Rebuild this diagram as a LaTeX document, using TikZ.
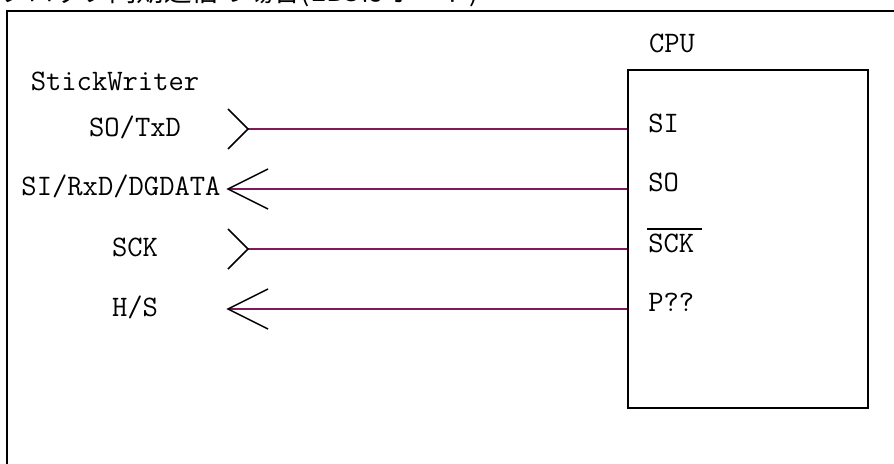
\documentclass[tikz,border=0pt]{standalone}
\usepackage{fontspec}
\newfontfamily\jpfont{Noto Sans CJK JP}
\definecolor{sigcol}{RGB}{130,25,90}
\begin{document}
\begin{tikzpicture}[x=0.75pt,y=-0.75pt,
  lbl/.style={inner sep=0pt,font=\ttfamily\fontsize{22.3}{24}\selectfont},
  frame/.style={line width=1.6pt,black},
  sig/.style={line width=1.2pt,sigcol},
  chev/.style={line width=1.1pt,black}]
\useasboundingbox (0,0) rectangle (894,464);
% title (partly cut off at the top, as in the reference)
\node[inner sep=0pt,anchor=base west,font=\jpfont\fontsize{20.5}{22}\selectfont] (title) at (0,2) {クロック同期通信の場合(EBSはポート)};
% outer frame
\coordinate (fb) at (7,470);
\coordinate (fc) at (7,11);
\coordinate (fr) at (900,11);
\draw[frame] (fb) -- (fc) -- (fr);
% CPU box
\node[draw,frame,inner sep=0pt,minimum width=180pt,minimum height=253.5pt] (cpu) at (748,239) {};
\node[lbl,anchor=base] (cpulbl) at (672,52) {CPU};
% StickWriter labels
\node[lbl,anchor=base] (sw) at (115,90) {StickWriter};
\node[lbl,anchor=base] (l1) at (135,136.5) {SO/TxD};
\node[lbl,anchor=base] (l2) at (121,195) {SI/RxD/DGDATA};
\node[lbl,anchor=base] (l3) at (135,256.5) {SCK};
\node[lbl,anchor=base] (l4) at (135,316.5) {H/S};
% CPU pins
\node[lbl,anchor=base west] (p1) at (648,132) {SI};
\node[lbl,anchor=base west] (p2) at (648,191) {SO};
\node[lbl,anchor=base west] (p3) at (648,252) {SCK};
\node[lbl,anchor=base west] (p4) at (648,311) {P??};
\coordinate (ol1) at (647,229);
\coordinate (ol2) at (702,229);
\draw[line width=1pt] (ol1) -- (ol2);
% connector start points
\coordinate (a1) at (248,129);
\coordinate (a2) at (228,189);
\coordinate (a3) at (248,249);
\coordinate (a4) at (228,309);
% signal lines
\draw[sig] (a1) -- (a1 -| cpu.west);
\draw[sig] (a2) -- (a2 -| cpu.west);
\draw[sig] (a3) -- (a3 -| cpu.west);
\draw[sig] (a4) -- (a4 -| cpu.west);
% chevrons
\draw[chev] ([shift={(-20,-20)}]a1) -- (a1) -- ([shift={(-20,20)}]a1);
\draw[chev] ([shift={(40,-20)}]a2) -- (a2) -- ([shift={(40,20)}]a2);
\draw[chev] ([shift={(-20,-20)}]a3) -- (a3) -- ([shift={(-20,20)}]a3);
\draw[chev] ([shift={(40,-20)}]a4) -- (a4) -- ([shift={(40,20)}]a4);
\end{tikzpicture}
\end{document}
